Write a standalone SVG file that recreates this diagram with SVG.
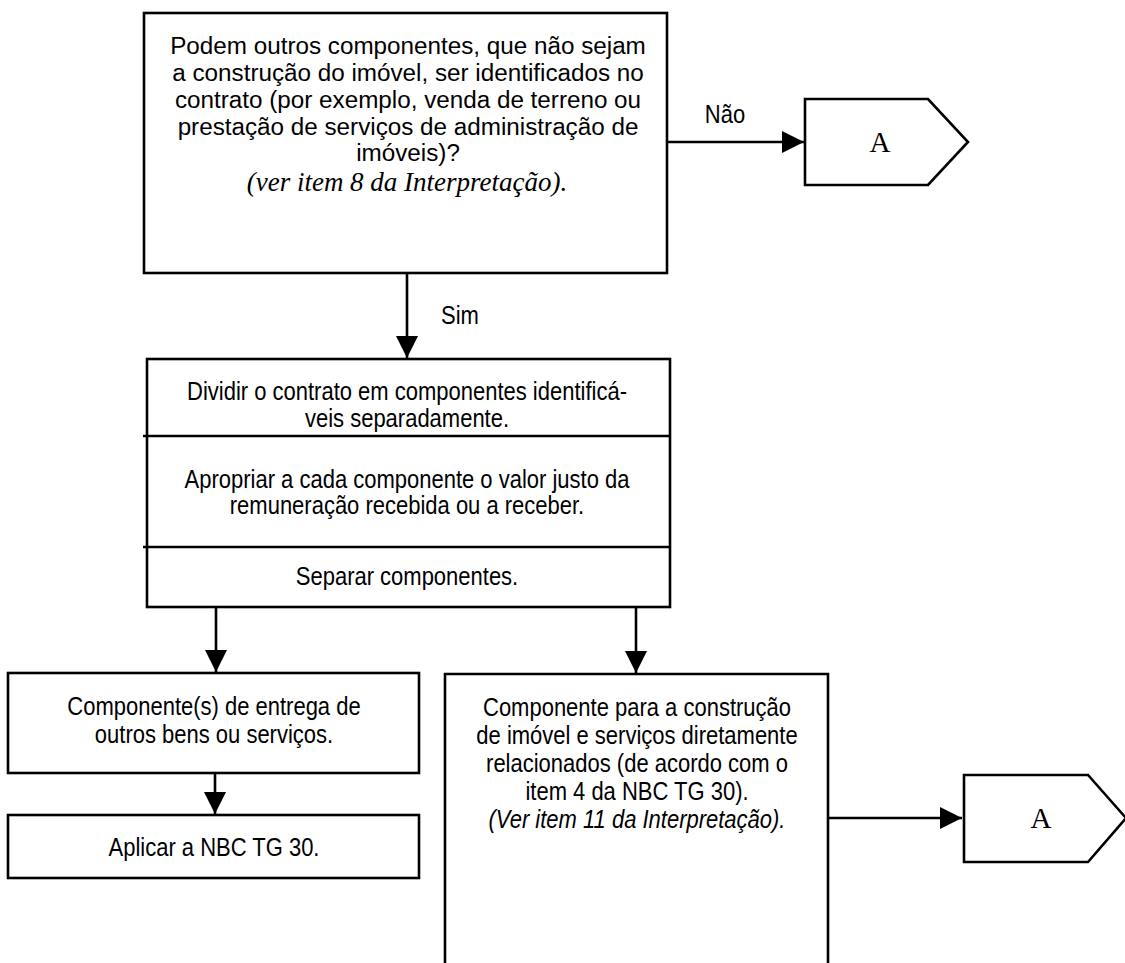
<svg xmlns="http://www.w3.org/2000/svg" width="1125" height="963" viewBox="0 0 1125 963">
<style>
.box{fill:#fff;stroke:#000;stroke-width:2.6}
.ln{fill:none;stroke:#000;stroke-width:2.6}
.t{font-family:"Liberation Sans",Arial,sans-serif;font-size:25px;fill:#000;text-anchor:middle}
.tb{font-size:24.5px}
.ti{font-style:italic}
.s{font-family:"Liberation Serif","Times New Roman",serif;font-size:27px;fill:#000;text-anchor:middle}
.sa{font-size:29px}
</style>
<defs>
<marker id="ah" markerUnits="userSpaceOnUse" markerWidth="22" markerHeight="22" viewBox="0 0 22 22" refX="22" refY="11" orient="auto">
<path d="M0,0 L22,11 L0,22 Z" fill="#000"/>
</marker>
</defs>
<rect width="1125" height="963" fill="#fff"/>
<g id="connectors">
<line class="ln" x1="667" y1="142" x2="804" y2="142" marker-end="url(#ah)"/>
<line class="ln" x1="407" y1="273" x2="407" y2="358" marker-end="url(#ah)"/>
<line class="ln" x1="216" y1="605" x2="216" y2="672" marker-end="url(#ah)"/>
<line class="ln" x1="636" y1="605" x2="636" y2="673" marker-end="url(#ah)"/>
<line class="ln" x1="215" y1="773" x2="215" y2="814" marker-end="url(#ah)"/>
<line class="ln" x1="828" y1="818" x2="962" y2="818" marker-end="url(#ah)"/>
<g transform="translate(725 0) scale(0.88 1)"><text class="t" x="0" y="123">Não</text></g>
<g transform="translate(460 0) scale(0.88 1)"><text class="t" x="0" y="324">Sim</text></g>
</g>
<g id="n-question">
<rect class="box" x="144" y="13" width="523" height="260"/>
<g transform="translate(408 0) scale(0.99 1)">
<text class="t tb" x="0" y="54">Podem outros componentes, que não sejam</text>
<text class="t tb" x="0" y="81">a construção do imóvel, ser identificados no</text>
<text class="t tb" x="0" y="108">contrato (por exemplo, venda de terreno ou</text>
<text class="t tb" x="0" y="135">prestação de serviços de administração de</text>
<text class="t tb" x="0" y="161">imóveis)?</text>
</g>
<text class="s ti" x="407" y="191">(ver item 8 da Interpretação).</text>
</g>
<g id="n-a1">
<path class="box" d="M805,99 L928,99 L968,142 L928,185 L805,185 Z"/>
<text class="s sa" x="880" y="152">A</text>
</g>
<g id="n-steps">
<rect class="box" x="147" y="359" width="523" height="248"/>
<line class="ln" x1="143" y1="436" x2="670" y2="436"/>
<line class="ln" x1="143" y1="547" x2="670" y2="547"/>
<g transform="translate(407 0) scale(0.88 1)">
<text class="t" x="0" y="400">Dividir o contrato em componentes identificá-</text>
<text class="t" x="0" y="427">veis separadamente.</text>
<text class="t" x="0" y="488">Apropriar a cada componente o valor justo da</text>
<text class="t" x="0" y="514">remuneração recebida ou a receber.</text>
<text class="t" x="0" y="585">Separar componentes.</text>
</g>
</g>
<g id="n-outros">
<rect class="box" x="8" y="673" width="411" height="100"/>
<g transform="translate(214 0) scale(0.88 1)">
<text class="t" x="0" y="715">Componente(s) de entrega de</text>
<text class="t" x="0" y="743">outros bens ou serviços.</text>
</g>
</g>
<g id="n-aplicar">
<rect class="box" x="8" y="815" width="411" height="63"/>
<g transform="translate(214 0) scale(0.88 1)">
<text class="t" x="0" y="856">Aplicar a NBC TG 30.</text>
</g>
</g>
<g id="n-construcao">
<path class="box" d="M445,966 L445,674 L828,674 L828,966"/>
<g transform="translate(637 0) scale(0.88 1)">
<text class="t" x="0" y="716">Componente para a construção</text>
<text class="t" x="0" y="744">de imóvel e serviços diretamente</text>
<text class="t" x="0" y="772">relacionados (de acordo com o</text>
<text class="t" x="0" y="800">item 4 da NBC TG 30).</text>
<text class="t ti" x="0" y="828">(Ver item 11 da Interpretação).</text>
</g>
</g>
<g id="n-a2">
<path class="box" d="M964,775 L1088,775 L1126,818 L1088,862 L964,862 Z"/>
<text class="s sa" x="1041" y="828">A</text>
</g>
</svg>
